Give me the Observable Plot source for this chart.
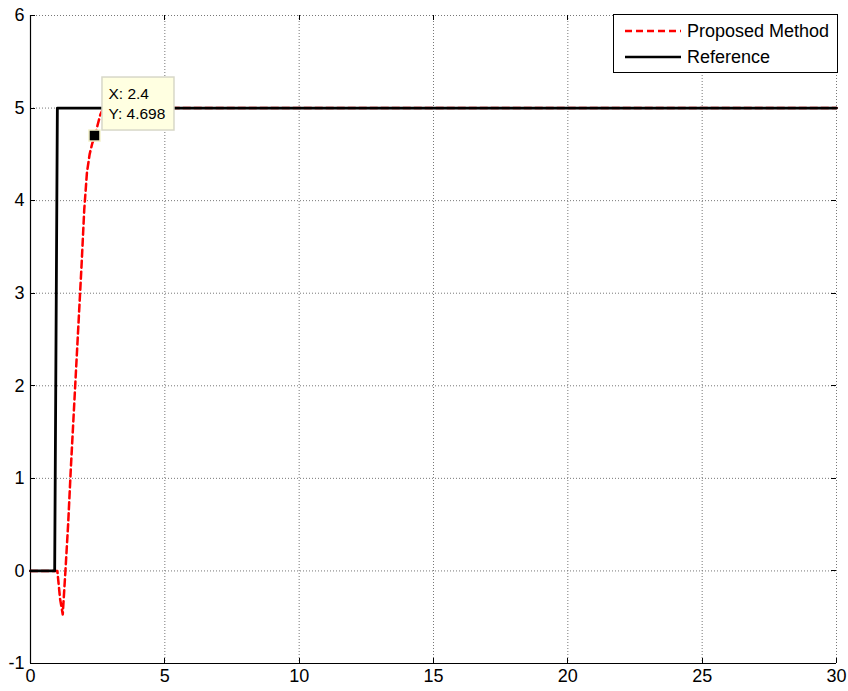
<!DOCTYPE html>
<html>
<head>
<meta charset="utf-8">
<script src="https://cdn.jsdelivr.net/npm/d3@7"></script>
<script src="https://cdn.jsdelivr.net/npm/@observablehq/plot@0.6"></script>
<style>
  html, body { margin: 0; padding: 0; background: #fff; }
  #chart svg { display: block; }
</style>
</head>
<body>
<div id="chart"></div>
<script>
// ---- Data ----
const referenceX = [0, 0.9, 1.0, 30];
const referenceY = [0, 0, 5, 5];

const proposedX = [0, 0.9, 1.0, 1.1, 1.2, 1.3, 1.4, 1.5, 1.6, 1.7, 1.8, 1.9, 2.0, 2.1, 2.2, 2.3, 2.4, 2.5, 2.6, 2.7, 2.8, 3.0, 3.5, 4, 5, 30];
const proposedY = [0, 0, 0, -0.3, -0.47, 0.0, 0.5, 1.1, 1.65, 2.2, 2.75, 3.3, 3.9, 4.3, 4.5, 4.62, 4.698, 4.82, 4.93, 4.99, 5.01, 5.02, 5.02, 5.01, 5.0, 5.0];

const xTicks = [0, 5, 10, 15, 20, 25, 30];
const yTicks = [-1, 0, 1, 2, 3, 4, 5, 6];

const seriesNames = ["Proposed Method", "Reference"];
const dataTip = {x: 2.4, y: 4.698, labelX: "X: 2.4", labelY: "Y: 4.698"};

const reference = referenceX.map((x, i) => ({x, y: referenceY[i]}));
const proposed = proposedX.map((x, i) => ({x, y: proposedY[i]}));

const W = 848, H = 691;
const mL = 30, mR = 12, mT = 15, mB = 28;

// inward ticks on all four sides (MATLAB style)
function inwardTicks(index, scales, values, dims) {
  const g = d3.create("svg:g").attr("stroke", "#000").attr("stroke-width", 1);
  const x0 = dims.marginLeft, x1 = dims.width - dims.marginRight;
  const y0 = dims.marginTop, y1 = dims.height - dims.marginBottom;
  for (const t of xTicks) {
    const px = Math.round(scales.x(t)) + 0.5;
    g.append("line").attr("x1", px).attr("x2", px).attr("y1", y1).attr("y2", y1 - 5);
    g.append("line").attr("x1", px).attr("x2", px).attr("y1", y0).attr("y2", y0 + 5);
  }
  for (const t of yTicks) {
    const py = Math.round(scales.y(t)) + 0.5;
    g.append("line").attr("x1", x0).attr("x2", x0 + 5).attr("y1", py).attr("y2", py);
    g.append("line").attr("x1", x1).attr("x2", x1 - 5).attr("y1", py).attr("y2", py);
  }
  return g.node();
}

function legend(index, scales, values, dims) {
  const right = dims.width - dims.marginRight + 1;
  const left = right - 224;
  const top = dims.marginTop - 1;
  const g = d3.create("svg:g").attr("text-anchor", "start");
  g.append("rect").attr("x", left + 0.5).attr("y", top + 0.5).attr("width", 224).attr("height", 58)
    .attr("fill", "#fff").attr("stroke", "#000").attr("stroke-width", 1);
  const rows = [
    {name: seriesNames[0], stroke: "#ff0000", dash: "7,4", y: top + 17},
    {name: seriesNames[1], stroke: "#000", dash: null, y: top + 43}
  ];
  for (const r of rows) {
    g.append("line").attr("x1", left + 12).attr("x2", left + 68).attr("y1", r.y).attr("y2", r.y)
      .attr("stroke", r.stroke).attr("stroke-width", 2.5).attr("stroke-dasharray", r.dash);
    g.append("text").attr("x", left + 74).attr("y", r.y).attr("dy", "0.36em")
      .attr("text-anchor", "start").attr("font-size", 18).attr("fill", "#000").text(r.name);
  }
  return g.node();
}

function tipBox(index, scales, values, dims) {
  const px = scales.x(dataTip.x), py = scales.y(dataTip.y);
  const g = d3.create("svg:g").attr("text-anchor", "start");
  g.append("rect").attr("x", px - 5.5).attr("y", py - 5.5).attr("width", 11).attr("height", 11)
    .attr("fill", "#000").attr("stroke", "#f2f0c8").attr("stroke-width", 1.5);
  g.append("rect").attr("x", px + 7.5).attr("y", py - 58.5).attr("width", 72).attr("height", 53)
    .attr("fill", "#ffffe1").attr("stroke", "#d8d8c8").attr("stroke-width", 1.5);
  g.append("text").attr("x", px + 14).attr("y", py - 37).attr("text-anchor", "start").attr("font-size", 15.5).attr("fill", "#000").text(dataTip.labelX);
  g.append("text").attr("x", px + 14).attr("y", py - 17).attr("text-anchor", "start").attr("font-size", 15.5).attr("fill", "#000").text(dataTip.labelY);
  return g.node();
}

const chart = Plot.plot({
  width: W,
  height: H,
  marginLeft: mL,
  marginRight: mR,
  marginTop: mT,
  marginBottom: mB,
  style: {fontFamily: "'Liberation Sans', Arial, sans-serif", fontSize: "18px", color: "#000", background: "#fff"},
  x: {domain: [0, 30]},
  y: {domain: [-1, 6]},
  marks: [
    Plot.gridX(xTicks, {stroke: "#777", strokeOpacity: 1, strokeDasharray: "1,2", strokeWidth: 1}),
    Plot.gridY(yTicks, {stroke: "#777", strokeOpacity: 1, strokeDasharray: "1,2", strokeWidth: 1}),
    Plot.axisX(xTicks, {tickSize: 0, tickPadding: 6, fontSize: 18, label: null, tickFormat: d => String(d)}),
    Plot.axisY(yTicks, {tickSize: 0, tickPadding: 6, fontSize: 18, label: null, tickFormat: d => String(d)}),
    Plot.ruleX([0], {stroke: "#000", strokeWidth: 1.2}),
    Plot.ruleY([-1], {stroke: "#000", strokeWidth: 1.2}),
    inwardTicks,
    Plot.line(proposed, {x: "x", y: "y", stroke: "#ff0000", strokeWidth: 2.5, strokeDasharray: "7,4"}),
    Plot.line(reference, {x: "x", y: "y", stroke: "#000", strokeWidth: 2.8}),
    legend,
    tipBox
  ]
});

document.getElementById("chart").appendChild(chart);
</script>
</body>
</html>
